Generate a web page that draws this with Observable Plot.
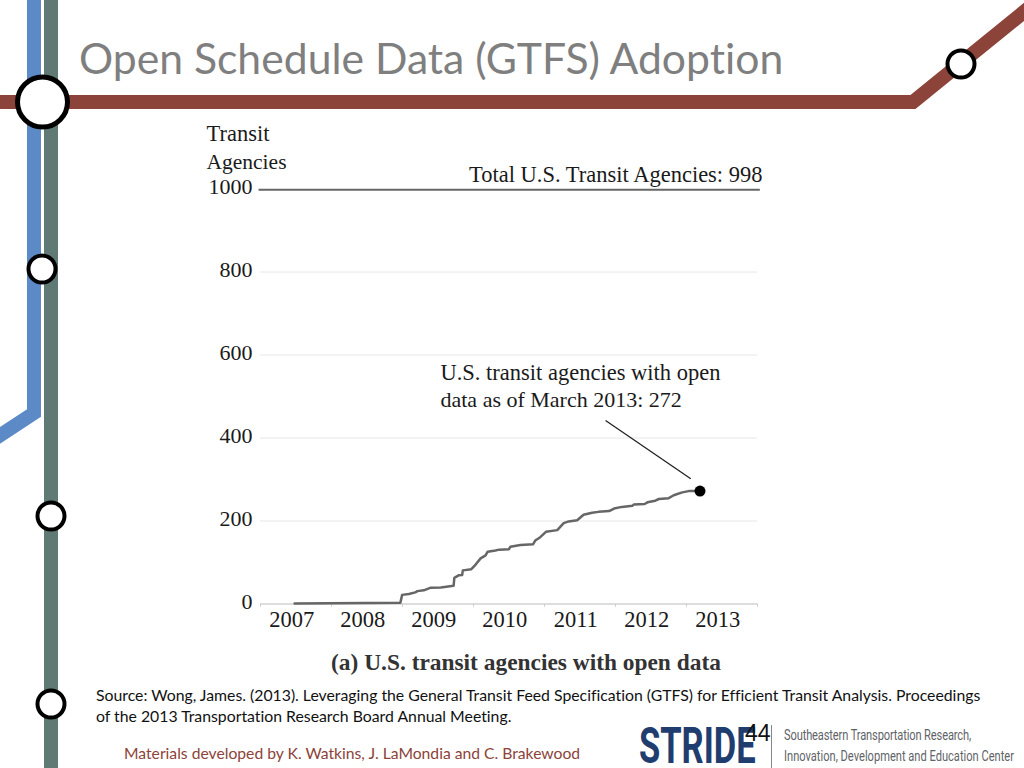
<!DOCTYPE html>
<html><head><meta charset="utf-8">
<script src="https://cdn.jsdelivr.net/npm/d3@7"></script>
<script src="https://cdn.jsdelivr.net/npm/@observablehq/plot@0.6"></script>
<style>
html,body{margin:0;padding:0;background:#fff;width:1024px;height:768px;overflow:hidden}
#page{position:relative;width:1024px;height:768px;overflow:hidden}
#decor,#chart{position:absolute;left:0;top:0}
.t{position:absolute;white-space:nowrap;font-family:Lato,"Open Sans",sans-serif;font-variant-ligatures:none}
</style></head><body>
<div id="page">
<svg id="decor" width="1024" height="768" viewBox="0 0 1024 768">
  <path d="M34 0V413L-4 438" fill="none" stroke="#5b8ac6" stroke-width="14"/>
  <path d="M51 0V768" fill="none" stroke="#5f7a74" stroke-width="14"/>
  <path d="M0 102H913L1030 7" fill="none" stroke="#8c4339" stroke-width="14"/>
  <g fill="#fff" stroke="#000">
    <circle cx="42.500" cy="102" r="25" stroke-width="5"/>
    <circle cx="42" cy="269" r="13.500" stroke-width="4"/>
    <circle cx="51" cy="516" r="13.500" stroke-width="4"/>
    <circle cx="51" cy="704" r="13.500" stroke-width="4"/>
    <circle cx="961" cy="64" r="13.500" stroke-width="4"/>
  </g>
</svg>
<div id="chart"></div>
<div class="t" style="left:79px;top:32px;font-size:42.700px;color:#7f7f7f">Open Schedule Data (GTFS) Adoption</div>
<div class="t" style="left:96px;top:685px;font-size:15.800px;line-height:20.500px;color:#111">Source: Wong, James. (2013). Leveraging the General Transit Feed Specification (GTFS) for Efficient Transit Analysis. Proceedings<br>of the 2013 Transportation Research Board Annual Meeting.</div>
<div class="t" style="left:124px;top:744px;font-size:15.700px;color:#8c4339">Materials developed by K. Watkins, J. LaMondia and C. Brakewood</div>
<div class="t" style="left:639px;top:725px;font-family:'Roboto',sans-serif;font-size:50px;font-weight:700;color:#1f3d6e;transform-origin:left top;transform:scaleX(0.69);line-height:42px">STRIDE</div>
<div class="t" style="left:745px;top:720px;font-family:'Liberation Sans',sans-serif;font-size:23px;color:#111">44</div>
<div style="position:absolute;left:771px;top:725px;width:1px;height:43px;background:#888"></div>
<div class="t" style="left:784px;top:725px;font-family:'Roboto',sans-serif;font-size:15px;color:#5f6468;line-height:21px;transform-origin:left top;transform:scaleX(0.74)"><span style="letter-spacing:-0.18px">Southeastern Transportation Research,</span><br>Innovation, Development and Education Center</div>
</div>
<script>
const years = [2007.48,2008.97,2008.995,2009.09,2009.18,2009.21,2009.30,2009.39,2009.54,2009.72,2009.73,2009.79,2009.84,2009.85,2009.97,2010.03,2010.10,2010.17,2010.20,2010.31,2010.36,2010.50,2010.52,2010.66,2010.84,2010.87,2010.94,2011.02,2011.18,2011.27,2011.34,2011.46,2011.55,2011.67,2011.76,2011.91,2011.98,2012.09,2012.24,2012.26,2012.41,2012.45,2012.56,2012.61,2012.75,2012.82,2012.94,2013.03,2013.19];
const agencies = [1,3,22,24,28,31,33,39,40,44,63,69,70,81,84,95,110,117,126,129,131,132,138,142,144,153,161,174,178,195,199,202,215,220,222,224,230,234,237,240,241,245,249,253,255,262,269,272,272];
const yearTicks = [2007,2008,2009,2010,2011,2012,2013,2014];
const yearLabels = [2007,2008,2009,2010,2011,2012,2013];
const gridValues = [200,400,600,800];
const yLabels = [0,200,400,600,800,1000];
const totalAgencies = 998;
const series = years.map((x,i)=>({x,y:agencies[i]}));
const serif = "'Liberation Serif','DejaVu Serif',serif";
const txt = (data,o)=>Plot.text(data,{fontFamily:serif,fill:"#1a1a1a",...o});
const plot = Plot.plot({
  width:1024,height:768,
  marginLeft:260,marginRight:267,marginTop:188.5,marginBottom:164.5,
  style:{background:"transparent",overflow:"visible"},
  x:{domain:[2007,2014],axis:null},
  y:{domain:[0,1000],axis:null},
  marks:[
    Plot.ruleY(gridValues,{stroke:"#e6e6e6",strokeWidth:1}),
    Plot.ruleY([0],{stroke:"#d2d2d2",strokeWidth:1.5}),
    Plot.ruleX(yearTicks,{x:d=>d,y1:0,y2:-8,stroke:"#cfcfcf",strokeWidth:1}),
    Plot.ruleY([totalAgencies],{x1:2006.98,x2:2014.04,stroke:"#666",strokeWidth:2}),
    Plot.line(series,{x:"x",y:"y",stroke:"#666",strokeWidth:2.500}),
    Plot.dot([series[series.length-1]],{x:"x",y:"y",r:5.500,fill:"#000"}),
    Plot.link([{x1:2011.86,y1:442,x2:2013.06,y2:302}],{x1:"x1",y1:"y1",x2:"x2",y2:"y2",stroke:"#222",strokeWidth:1.3}),
    txt(yLabels,{x:2007,y:d=>d,text:d=>String(d),textAnchor:"end",dx:-8,dy:-2,fontSize:22}),
    txt(yearLabels,{x:d=>d+0.44,y:0,text:d=>String(d),dy:16,fontSize:22.500}),
    txt(["Transit"],{x:2007,y:1000,textAnchor:"start",dx:-54,dy:-55,fontSize:22.500}),
    txt(["Agencies"],{x:2007,y:1000,textAnchor:"start",dx:-54,dy:-27,fontSize:21.500}),
    txt(["Total U.S. Transit Agencies: 998"],{x:2014,y:1000,textAnchor:"end",dx:5,dy:-14,fontSize:22.500}),
    txt(["U.S. transit agencies with open"],{x:2009.535,y:556,textAnchor:"start",fontSize:22.500}),
    txt(["data as of March 2013: 272"],{x:2009.535,y:491,textAnchor:"start",fontSize:22}),
    txt(["(a) U.S. transit agencies with open data"],{x:2010.5,y:0,dx:17,dy:58,fontSize:23.400,fontWeight:"bold",fill:"#333"}),
  ]
});
document.getElementById("chart").append(plot);
</script>
</body></html>
